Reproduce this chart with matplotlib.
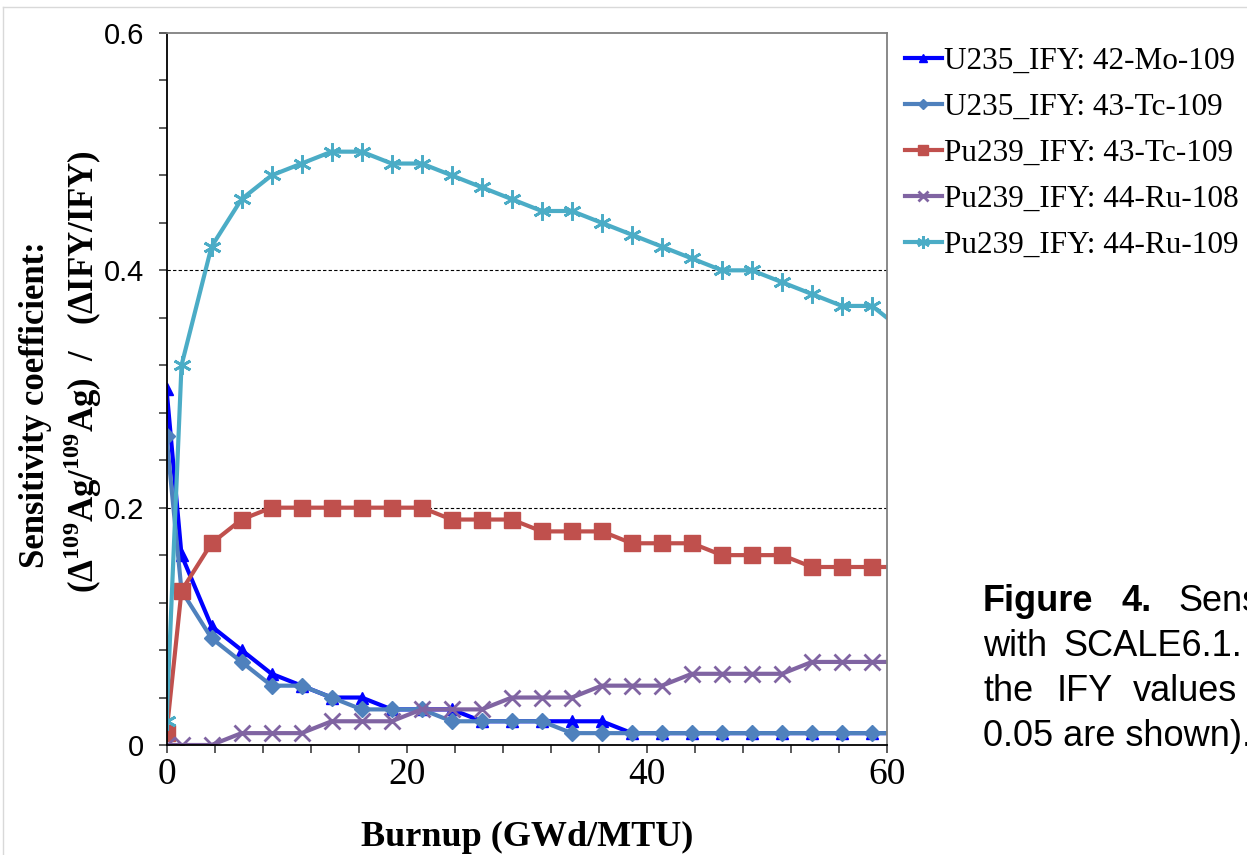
import matplotlib
matplotlib.use('Agg')
import matplotlib.pyplot as plt
from matplotlib.lines import Line2D

plt.rcParams['mathtext.fontset'] = 'custom'
plt.rcParams['mathtext.rm'] = 'Liberation Serif:bold'
plt.rcParams['mathtext.bf'] = 'Liberation Serif:bold'

# burnup steps (GWd/MTU); last step lies past the axis end and is clipped
burnup = [0, 1.25, 3.75, 6.25, 8.75, 11.25, 13.75, 16.25, 18.75, 21.25, 23.75, 26.25,
          28.75, 31.25, 33.75, 36.25, 38.75, 41.25, 43.75, 46.25, 48.75, 51.25,
          53.75, 56.25, 58.75, 61.25]

u235_mo109 = [0.30, 0.16, 0.10, 0.08, 0.06, 0.05, 0.04, 0.04, 0.03, 0.03, 0.03, 0.02,
              0.02, 0.02, 0.02, 0.02, 0.01, 0.01, 0.01, 0.01, 0.01, 0.01,
              0.01, 0.01, 0.01, 0.01]
u235_tc109 = [0.26, 0.13, 0.09, 0.07, 0.05, 0.05, 0.04, 0.03, 0.03, 0.03, 0.02, 0.02,
              0.02, 0.02, 0.01, 0.01, 0.01, 0.01, 0.01, 0.01, 0.01, 0.01,
              0.01, 0.01, 0.01, 0.01]
pu239_tc109 = [0.01, 0.13, 0.17, 0.19, 0.20, 0.20, 0.20, 0.20, 0.20, 0.20, 0.19, 0.19,
               0.19, 0.18, 0.18, 0.18, 0.17, 0.17, 0.17, 0.16, 0.16, 0.16,
               0.15, 0.15, 0.15, 0.15]
pu239_ru108 = [0.00, 0.00, 0.00, 0.01, 0.01, 0.01, 0.02, 0.02, 0.02, 0.03, 0.03, 0.03,
               0.04, 0.04, 0.04, 0.05, 0.05, 0.05, 0.06, 0.06, 0.06, 0.06,
               0.07, 0.07, 0.07, 0.07]
pu239_ru109 = [0.02, 0.32, 0.42, 0.46, 0.48, 0.49, 0.50, 0.50, 0.49, 0.49, 0.48, 0.47,
               0.46, 0.45, 0.45, 0.44, 0.43, 0.42, 0.41, 0.40, 0.40, 0.39,
               0.38, 0.37, 0.37, 0.35]

labels = ['U235_IFY: 42-Mo-109', 'U235_IFY: 43-Tc-109', 'Pu239_IFY: 43-Tc-109',
          'Pu239_IFY: 44-Ru-108', 'Pu239_IFY: 44-Ru-109']

fig = plt.figure(figsize=(12.47, 8.55), dpi=100)
ax = fig.add_axes([166.5 / 1247, 1 - 745 / 855, (887 - 166.5) / 1247, (745 - 33) / 855])

lw = 3
ax.plot(burnup, u235_mo109, color='#0000FF', lw=lw, marker='^', ms=8, label=labels[0])
ax.plot(burnup, u235_tc109, color='#4F81BD', lw=lw, marker='D', ms=8, label=labels[1])
ax.plot(burnup, pu239_tc109, color='#C0504D', lw=lw, marker='s', ms=11, label=labels[2])
ax.plot(burnup, pu239_ru108, color='#8064A2', lw=lw, marker='x', ms=11, mew=2, label=labels[3])
ax.plot(burnup, pu239_ru109, color='#4BACC6', lw=lw, marker=(6, 2, 0), ms=13, mew=2,
        label=labels[4])

ax.set_xlim(0, 60)
ax.set_ylim(0, 0.6)
ax.set_xticks([0, 20, 40, 60])
ax.set_xticks(range(0, 61, 4), minor=True)
ax.set_yticks([0, 0.2, 0.4, 0.6])
ax.set_yticks([i * 0.04 for i in range(16)], minor=True)
ax.set_yticklabels(['0', '0.2', '0.4', '0.6'], family='Liberation Sans', fontsize=21)
ax.set_xticklabels(['0', '20', '40', '60'], family='Liberation Serif', fontsize=27)
ax.tick_params(which='both', direction='out', length=6, width=1.2, color='#404040')
ax.tick_params(axis='y', pad=10)
ax.tick_params(axis='x', pad=3)

for y in (0.2, 0.4):
    ax.axhline(y, color='black', lw=0.8, ls=(0, (3, 2)), zorder=0)

ax.spines['left'].set_color('black')
ax.spines['bottom'].set_color('black')
ax.spines['top'].set_color('#808080')
ax.spines['right'].set_color('#808080')
for s in ax.spines.values():
    s.set_linewidth(1.3)

ax.set_xlabel('Burnup (GWd/MTU)', family='Liberation Serif', fontweight='bold',
              fontsize=26, labelpad=21)
fig.text(36 / 1247, 1 - 405 / 855, 'Sensitivity coefficient:', rotation=90,
         family='Liberation Serif', fontweight='bold', fontsize=25,
         ha='center', va='center')
fig.text(83 / 1247, 1 - 372 / 855,
         r'($\Delta^{109}$Ag/$^{109}$Ag)  /   ($\Delta$IFY/IFY)', rotation=90,
         family='Liberation Serif', fontweight='bold', fontsize=25,
         ha='center', va='center')

fig.legend(loc='upper left', bbox_to_anchor=(892 / 1247, 1 - 34 / 855), frameon=False,
           prop={'family': 'Liberation Serif', 'size': 22.5}, handlelength=1.2,
           handletextpad=0.05, labelspacing=0.55, borderaxespad=0, markerscale=0.7)

# caption, justified word by word and cut by the page edge
cap_font = dict(family='Liberation Sans', fontsize=26, va='baseline')
caption_words = [
    (983, 611, 'Figure', 'bold'), (1122, 611, '4.', 'bold'), (1178, 611, 'Sensitivity', 'normal'),
    (983, 656, 'with', 'normal'), (1063, 656, 'SCALE6.1.', 'normal'),
    (983, 701, 'the', 'normal'), (1057, 701, 'IFY', 'normal'), (1133, 701, 'values', 'normal'),
    (983, 746, '0.05 are shown).', 'normal'),
]
for x, y, word, weight in caption_words:
    fig.text(x / 1247, 1 - y / 855, word, fontweight=weight, **cap_font)

# page border
fig.add_artist(Line2D([3 / 1247, 1], [1 - 7 / 855, 1 - 7 / 855], color='#d9d9d9', lw=1))
fig.add_artist(Line2D([3 / 1247, 3 / 1247], [0, 1 - 7 / 855], color='#d9d9d9', lw=1))

fig.savefig('out.png', dpi=100)
